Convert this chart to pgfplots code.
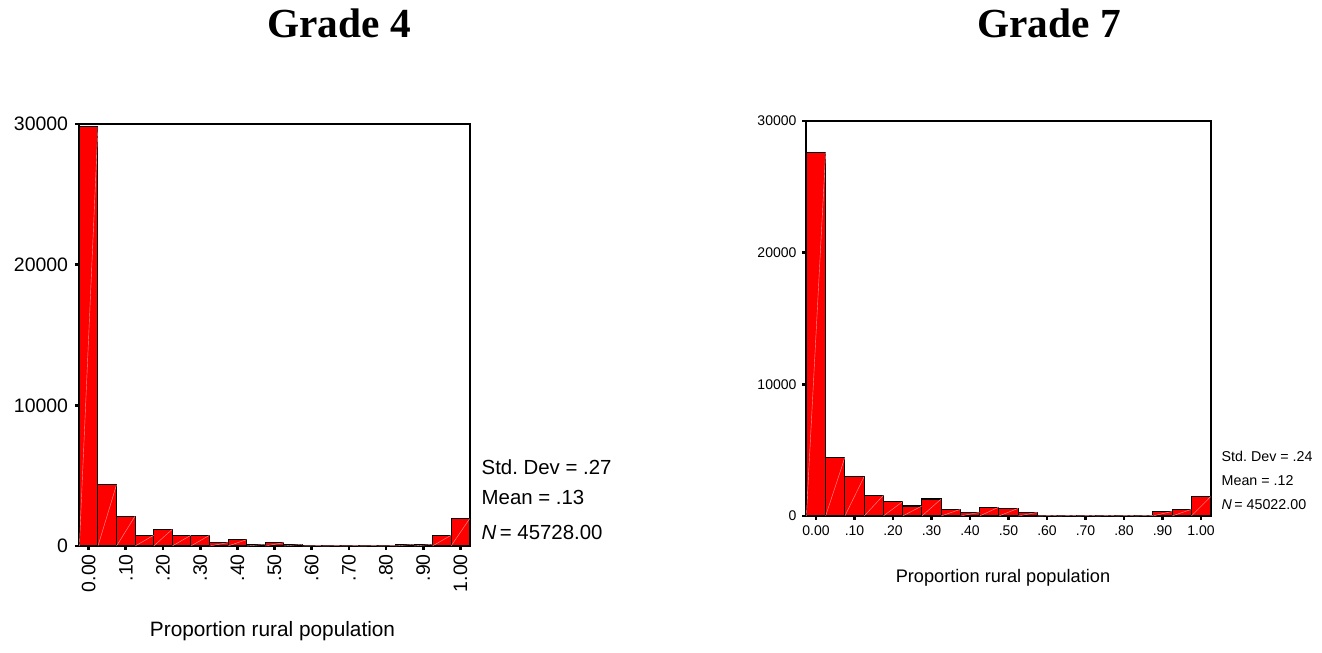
\documentclass[border=0pt]{standalone}
\usepackage{pgfplots}
\pgfplotsset{compat=1.18}
\usepackage{pgfplotstable}
\usepackage{fontspec}
\setmainfont{Liberation Sans}
\newfontfamily\timesfont{Liberation Serif}
\definecolor{barred}{RGB}{255,0,0}

\pgfplotstableread{
x y
0.00 29800
0.05 4360
0.10 2130
0.15 760
0.20 1185
0.25 760
0.30 760
0.35 240
0.40 450
0.45 120
0.50 240
0.55 120
0.60 30
0.65 30
0.70 30
0.75 30
0.80 30
0.85 120
0.90 120
0.95 760
1.00 1940
}\gradefour

\pgfplotstableread{
x y
0.00 27620
0.05 4455
0.10 2990
0.15 1570
0.20 1090
0.25 760
0.30 1290
0.35 506
0.40 280
0.45 680
0.50 580
0.55 280
0.60 50
0.65 50
0.70 50
0.75 50
0.80 50
0.85 50
0.90 350
0.95 506
1.00 1470
}\gradeseven

\pgfplotsset{
  histo/.style={
    scale only axis,
    xmin=-0.026, xmax=1.026,
    ymin=0, ymax=30000,
    axis line style={black, line width=0.8pt},
    tick align=outside,
    xtick pos=lower, ytick pos=left,
    major tick length=3pt,
    every tick/.style={black, line width=2pt},
    scaled y ticks=false,
    xtick={0,0.1,0.2,0.3,0.4,0.5,0.6,0.7,0.8,0.9,1},
    xticklabels={0.00,.10,.20,.30,.40,.50,.60,.70,.80,.90,1.00},
    ytick={0,10000,20000,30000},
    yticklabels={0,10000,20000,30000},
    /pgf/number format/assume math mode=true,
    clip=false,
  },
  histbar/.style={ybar, bar width=0.05, bar shift=0pt, fill=barred, draw=black, line width=0.8pt},
  histdiag/.style={-, draw=white!60!barred, line width=0.3pt},
}

\begin{document}
\begin{tikzpicture}
\path[use as bounding box] (0,0) rectangle (991.5pt,489.75pt);

% Titles
\node[anchor=base, font=\timesfont\bfseries\fontsize{31}{36}\selectfont] at (254.25pt,461.25pt) {Grade 4};
\node[anchor=base, font=\timesfont\bfseries\fontsize{31}{36}\selectfont] at (786.75pt,461.25pt) {Grade 7};

% Left: Grade 4
\begin{axis}[histo,
  at={(59.25pt,80.25pt)}, anchor=south west,
  width=293.25pt, height=316.5pt,
  ticklabel style={font=\fontsize{14.6}{16}\selectfont},
  xticklabel style={rotate=90, anchor=east, inner sep=0pt, xshift=-3pt},
  yticklabel style={anchor=east, inner sep=0pt, xshift=-5pt},
]
\addplot[histbar] table[x=x, y=y] {\gradefour};
\addplot[histdiag, quiver={u=0.05, v=\thisrow{y}}] table[x expr=\thisrow{x}-0.025, y expr=0] {\gradefour};
\end{axis}

\node[anchor=base west, font=\fontsize{15.3}{18}\selectfont] at (357.75pt,133.5pt) {Std.\ Dev = .27};
\node[anchor=base west, font=\fontsize{15.3}{18}\selectfont] at (357.75pt,111pt) {Mean = .13};
\node[anchor=base west, font=\fontsize{15.3}{18}\selectfont] at (357.75pt,84.75pt) {\textit{N}\,= 45728.00};
\node[anchor=base, font=\fontsize{15.6}{18}\selectfont] at (204.4pt,12pt) {Proportion rural population};

% Right: Grade 7
\begin{axis}[histo,
  at={(604.5pt,102.75pt)}, anchor=south west,
  width=303.75pt, height=296.25pt,
  ticklabel style={font=\fontsize{10.5}{12}\selectfont},
  xticklabel style={anchor=north, inner sep=0pt, yshift=-4pt},
  yticklabel style={anchor=east, inner sep=0pt, xshift=-4pt},
]
\addplot[histbar] table[x=x, y=y] {\gradeseven};
\addplot[histdiag, quiver={u=0.05, v=\thisrow{y}}] table[x expr=\thisrow{x}-0.025, y expr=0] {\gradeseven};
\end{axis}

\node[anchor=base west, font=\fontsize{10.7}{13}\selectfont] at (912.75pt,143.25pt) {Std.\ Dev = .24};
\node[anchor=base west, font=\fontsize{10.7}{13}\selectfont] at (912.75pt,125.25pt) {Mean = .12};
\node[anchor=base west, font=\fontsize{10.7}{13}\selectfont] at (912.75pt,107.25pt) {\textit{N}\,= 45022.00};
\node[anchor=base, font=\fontsize{13.65}{16}\selectfont] at (752.25pt,52.5pt) {Proportion rural population};

\end{tikzpicture}
\end{document}
